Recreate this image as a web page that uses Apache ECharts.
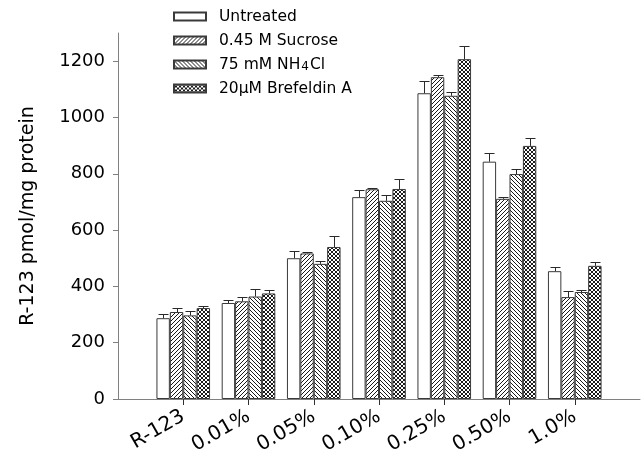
<!DOCTYPE html>
<html>
<head>
<meta charset="utf-8">
<script src="https://cdn.jsdelivr.net/npm/echarts@6/dist/echarts.min.js"></script>
<style>
  html, body { margin: 0; padding: 0; background: #fff; }
  #chart { width: 644px; height: 462px; }
</style>
</head>
<body>
<div id="chart"></div>
<script>
// Rhodamine-123 uptake per treatment, at each concentration
const categories = ['R-123', '0.01%', '0.05%', '0.10%', '0.25%', '0.50%', '1.0%'];
const seriesNames = ['Untreated', '0.45 M Sucrose', '75 mM NH4Cl', '20\u03bcM Brefeldin A'];

const untreated     = [287, 341, 500, 717, 1086, 843, 454];
const untreatedErr  = [14, 12, 24, 25, 44, 32, 15];
const sucrose       = [309, 347, 517, 745, 1143, 711, 362];
const sucroseErr    = [16, 15, 4, 6, 9, 8, 21];
const nh4cl         = [297, 364, 480, 704, 1077, 799, 380];
const nh4clErr      = [16, 28, 10, 20, 15, 17, 8];
const brefeldin     = [323, 375, 540, 746, 1207, 899, 473];
const brefeldinErr  = [8, 11, 40, 36, 48, 27, 12];

const yTicks = [0, 200, 400, 600, 800, 1000, 1200];

const values = [untreated, sucrose, nh4cl, brefeldin];
const errors = [untreatedErr, sucroseErr, nh4clErr, brefeldinErr];

// blank slots pad the category axis so the groups sit one step in from each end
const axisData = [''].concat(categories, ['']);

const BAR_W = 13.4;
const FONT = 'DejaVu Sans';

// small tiled hatch patterns
function makePattern(kind) {
  const n = 4;
  const c = document.createElement('canvas');
  c.width = n; c.height = n;
  const g = c.getContext('2d');
  g.fillStyle = '#ffffff';
  g.fillRect(0, 0, n, n);
  g.fillStyle = '#1a1a1a';
  for (let i = 0; i < n; i++) {
    if (kind === 'fwd' || kind === 'cross') g.fillRect(i, n - 1 - i, 1, 1);
    if (kind === 'back' || kind === 'cross') g.fillRect(i, i, 1, 1);
  }
  return { image: c, repeat: 'repeat' };
}

const fills = ['#ffffff', makePattern('fwd'), makePattern('back'), makePattern('cross')];

function pad(arr) { return ['-'].concat(arr, ['-']); }

const barSeries = values.map((vals, s) => ({
  name: seriesNames[s],
  type: 'bar',
  barWidth: BAR_W,
  barGap: '0%',
  data: pad(vals),
  itemStyle: { color: fills[s], borderColor: '#3a3a3a', borderWidth: 1 },
  emphasis: { disabled: true },
  silent: true,
  z: 2
}));

// upper error bars, one custom series per treatment
const errSeries = values.map((vals, s) => ({
  type: 'custom',
  silent: true,
  z: 3,
  encode: { x: 0, y: 1 },
  data: vals.map((v, i) => [i + 1, v, errors[s][i]]),
  renderItem: function (params, api) {
    const cat = api.value(0);
    const v = api.value(1);
    const e = api.value(2);
    const base = api.coord([cat, v]);
    const top = api.coord([cat, v + e]);
    const x = Math.round(base[0] + (s - 1.5) * BAR_W) + 0.5;
    const yt = Math.round(top[1]) + 0.5;
    const style = { stroke: '#2a2a2a', lineWidth: 1 };
    return {
      type: 'group',
      children: [
        { type: 'line', shape: { x1: x, y1: base[1], x2: x, y2: yt }, style: style },
        { type: 'line', shape: { x1: x - 5, y1: yt, x2: x + 5, y2: yt }, style: style }
      ]
    };
  }
}));

const chart = echarts.init(document.getElementById('chart'), null, { renderer: 'canvas' });

chart.setOption({
  animation: false,
  backgroundColor: '#ffffff',
  grid: { left: 118, right: 4, top: 33, bottom: 63, containLabel: false },
  legend: {
    data: seriesNames,
    orient: 'vertical',
    left: 168,
    top: 3,
    itemWidth: 32,
    itemHeight: 8,
    itemGap: 7,
    icon: 'rect',
    selectedMode: false,
    textStyle: {
      fontFamily: FONT, fontSize: 15.5, color: '#000', lineHeight: 17,
      padding: [0, 0, 0, 8],
      rich: {
        sub: { fontFamily: FONT, fontSize: 12, verticalAlign: 'top', lineHeight: 12, padding: [5, 1, 0, 1], color: '#000' }
      }
    },
    formatter: function (name) {
      return name === '75 mM NH4Cl' ? '75 mM NH{sub|4}Cl' : name;
    }
  },
  xAxis: {
    type: 'category',
    data: axisData,
    boundaryGap: false,
    axisLine: { lineStyle: { color: '#808080', width: 1 } },
    axisTick: {
      length: 6,
      lineStyle: { color: '#303030' },
      interval: function (i, v) { return v !== ''; }
    },
    axisLabel: {
      interval: 0,
      rotate: 30,
      margin: 16,
      fontFamily: FONT,
      fontSize: 20,
      color: '#000'
    },
    splitLine: { show: false }
  },
  yAxis: {
    type: 'value',
    min: 0,
    max: 1300,
    interval: 200,
    name: 'R-123 pmol/mg protein',
    nameLocation: 'middle',
    nameGap: 80,
    nameTextStyle: { fontFamily: FONT, fontSize: 19, color: '#000' },
    axisLine: { show: true, lineStyle: { color: '#808080', width: 1 } },
    axisTick: { show: true, length: 5, customValues: yTicks, lineStyle: { color: '#808080' } },
    axisLabel: {
      customValues: yTicks, margin: 13, fontFamily: FONT, fontSize: 18, color: '#000',
      formatter: function (v) { return String(v); }
    },
    splitLine: { show: false }
  },
  series: barSeries.concat(errSeries)
});
</script>
</body>
</html>
